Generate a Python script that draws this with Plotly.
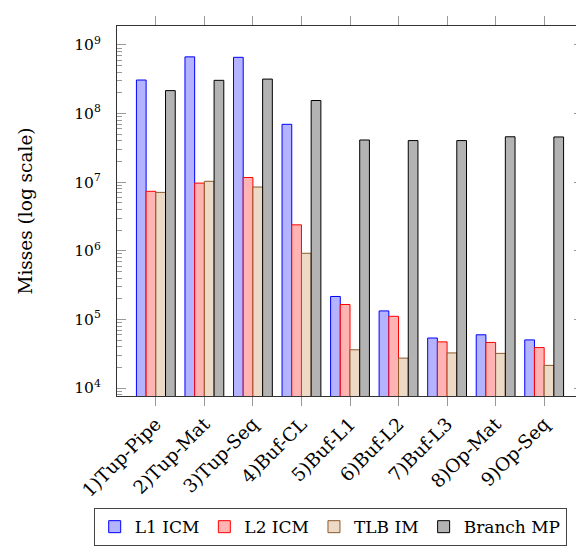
import plotly.graph_objects as go

categories = ["1)Tup-Pipe", "2)Tup-Mat", "3)Tup-Seq", "4)Buf-CL", "5)Buf-L1",
              "6)Buf-L2", "7)Buf-L3", "8)Op-Mat", "9)Op-Seq"]
l1_icm = [3.08e8, 6.7e8, 6.6e8, 6.97e7, 2.16e5, 1.33e5, 5.36e4, 5.97e4, 5.03e4]
l2_icm = [7.36e6, 9.7e6, 1.17e7, 2.39e6, 1.65e5, 1.11e5, 4.71e4, 4.62e4, 3.89e4]
tlb_im = [7.1e6, 1.03e7, 8.5e6, 9.2e5, 3.61e4, 2.73e4, 3.25e4, 3.2e4, 2.14e4]
branch_mp = [2.16e8, 3.05e8, 3.18e8, 1.55e8, 4.12e7, 4.04e7, 4.04e7, 4.59e7, 4.56e7]

series = [
    ("L1 ICM", l1_icm, "#b3b3ff", "#0000ff"),
    ("L2 ICM", l2_icm, "#ffb3b3", "#ff0000"),
    ("TLB IM", tlb_im, "#ecd9c6", "#8c5a2b"),
    ("Branch MP", branch_mp, "#b3b3b3", "#000000"),
]

y_major = [1e4, 1e5, 1e6, 1e7, 1e8, 1e9]
y_major_text = ["10<sup>4</sup>", "10<sup>5</sup>", "10<sup>6</sup>",
                "10<sup>7</sup>", "10<sup>8</sup>", "10<sup>9</sup>"]
y_minor = [m * 10 ** k for k in range(3, 10) for m in range(2, 10)]
y_range = [3.884, 9.276]

fig = go.Figure()
for name, vals, fill, edge in series:
    fig.add_trace(go.Bar(
        name=name, x=categories, y=vals,
        marker=dict(color=fill, line=dict(color=edge, width=1)),
    ))
fig.add_trace(go.Scatter(x=[], y=[], yaxis="y2", showlegend=False, hoverinfo="skip"))

font = dict(family="DejaVu Serif", size=18.5, color="black")
yfont = dict(family="DejaVu Serif", size=15.5, color="black")
lfont = dict(family="DejaVu Serif", size=17, color="black")

tick_common = dict(
    type="log", range=y_range,
    tickmode="array", tickvals=y_major,
    ticks="inside", ticklen=9, tickcolor="#999", tickwidth=1,
    minor=dict(tickmode="array", tickvals=y_minor, ticks="inside",
               ticklen=5, tickcolor="#999", tickwidth=1, showgrid=False),
    showgrid=False, zeroline=False,
)

fig.update_layout(
    width=584, height=546,
    margin=dict(l=109, r=9, t=8, b=152),
    plot_bgcolor="white", paper_bgcolor="white",
    barmode="group", bargap=0.2, bargroupgap=0,
    font=font,
    showlegend=True,
    legend=dict(
        orientation="h", x=-0.05, xanchor="left", y=-0.303, yanchor="top",
        bordercolor="#444", borderwidth=1, font=lfont,
        traceorder="normal", itemwidth=30,
    ),
    xaxis=dict(
        type="category", range=[-0.8, 8.8],
        showline=True, linecolor="#333", linewidth=1, mirror="allticks",
        ticks="outside", ticklen=9, tickcolor="#999", tickwidth=1,
        tickangle=-45, showgrid=False, tickfont=font,
    ),
    yaxis=dict(
        **tick_common,
        ticktext=y_major_text,
        showline=True, linecolor="#333", linewidth=1, mirror=True,
        tickfont=yfont, ticklabelstandoff=12,
        title=dict(text="Misses (log scale)", font=font, standoff=36),
    ),
    yaxis2=dict(
        **tick_common,
        overlaying="y", side="right", showticklabels=False, showline=False,
    ),
)

fig.write_html("out.html")
